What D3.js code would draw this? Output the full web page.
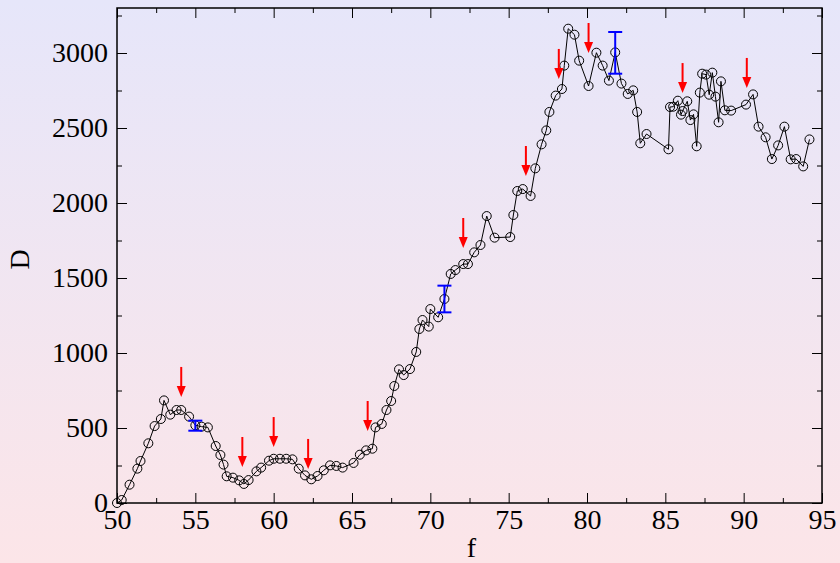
<!DOCTYPE html>
<html>
<head>
<meta charset="utf-8">
<script src="https://cdn.jsdelivr.net/npm/d3@7"></script>
<style>
  body { margin: 0; padding: 0; }
  svg { display: block; }
</style>
</head>
<body>
<div id="my_dataviz"></div>
<script>

// measured points
var fVals = [50.0, 50.3, 50.8, 51.3, 51.5, 52.0, 52.4, 52.8, 53.0, 53.4, 53.8, 54.1, 54.6, 55.0, 55.4, 55.8,
    56.3, 56.6, 56.8, 57.0, 57.4, 57.8, 58.1, 58.4, 58.9, 59.2, 59.7, 60.0, 60.4, 60.8, 61.2, 61.6,
    62.0, 62.4, 62.8, 63.2, 63.6, 64.0, 64.4, 65.1, 65.5, 65.9, 66.3, 66.5, 66.9, 67.2, 67.5, 67.7,
    68.0, 68.3, 68.7, 69.1, 69.3, 69.5, 69.9, 70.0, 70.5, 70.9, 71.3, 71.6, 72.1, 72.4, 72.8, 73.2,
    73.6, 74.1, 75.1, 75.3, 75.55, 75.9, 76.4, 76.7, 77.1, 77.4, 77.6, 78.0, 78.4, 78.55, 78.8, 79.2,
    79.5, 80.1, 80.6, 81.0, 81.4, 81.8, 82.2, 82.6, 82.95, 83.2, 83.4, 83.8, 85.2, 85.3, 85.5, 85.8,
    86.0, 86.1, 86.4, 86.6, 86.8, 87.0, 87.2, 87.35, 87.6, 87.8, 88.0, 88.2, 88.4, 88.55, 88.8, 89.2,
    90.15, 90.6, 90.95, 91.4, 91.8, 92.2, 92.6, 93.0, 93.35, 93.8, 94.2];
var dVals = [0, 20, 122, 229, 280, 398, 513, 560, 684, 589, 620, 620, 576, 518, 509, 504,
    380, 320, 256, 178, 169, 151, 127, 153, 211, 236, 282, 295, 295, 295, 291, 229,
    184, 158, 180, 218, 251, 247, 236, 267, 322, 351, 362, 504, 527, 620, 680, 780,
    891, 853, 893, 1007, 1160, 1220, 1176, 1293, 1238, 1360, 1527, 1553, 1593, 1593, 1671, 1720,
    1913, 1769, 1773, 1920, 2080, 2093, 2047, 2231, 2391, 2484, 2607, 2716, 2760, 2916, 3162, 3122,
    2949, 2780, 3002, 2916, 2816, 3004, 2796, 2727, 2751, 2607, 2398, 2460, 2358, 2640, 2642, 2682,
    2589, 2613, 2678, 2553, 2591, 2378, 2736, 2862, 2856, 2722, 2869, 2709, 2538, 2811, 2618, 2616,
    2656, 2724, 2509, 2438, 2293, 2384, 2509, 2291, 2293, 2244, 2424];

// error bars
var errF = [55.0, 70.9, 81.8];
var errLo = [482, 1271, 2862];
var errHi = [549, 1449, 3140];

// red arrows (tip position)
var arrowF = [54.1, 58.0, 60.0, 62.2, 66.0, 72.1, 76.1, 78.2, 80.1, 86.1, 90.2];
var arrowD = [707, 240, 373, 227, 480, 1700, 2180, 2827, 3000, 2733, 2767];

var xTicks = [50, 55, 60, 65, 70, 75, 80, 85, 90, 95];
var yTicks = [0, 500, 1000, 1500, 2000, 2500, 3000];

var data = fVals.map(function(f, i) { return {x: f, y: dVals[i]}; });

var margin = {top: 8, right: 18, bottom: 60, left: 117},
    W = 840, H = 563,
    width = W - margin.left - margin.right,
    height = H - margin.top - margin.bottom;

var root = d3.select("#my_dataviz")
  .append("svg")
    .attr("width", W)
    .attr("height", H);

// background gradient
var grad = root.append("defs").append("linearGradient")
    .attr("id", "bg")
    .attr("x1", 0).attr("y1", 0).attr("x2", 0).attr("y2", 1);
grad.append("stop").attr("offset", "0%").attr("stop-color", "#e6e6fa");
grad.append("stop").attr("offset", "100%").attr("stop-color", "#fce5e8");
root.append("rect")
    .attr("width", W).attr("height", H)
    .attr("fill", "url(#bg)");

var svg = root.append("g")
    .attr("transform", "translate(" + margin.left + "," + margin.top + ")");

var x = d3.scaleLinear().domain([50, 95]).range([0, width]);
var y = d3.scaleLinear().domain([0, 3300]).range([height, 0]);

var font = "'Liberation Serif', 'Times New Roman', serif";
var xMinor = d3.range(52.5, 95, 5);
var yMinor = d3.range(250, 3300, 500);

function styleAxis(g) {
    g.selectAll(".domain").remove();
    g.selectAll("line").attr("stroke", "#000").attr("stroke-width", 1);
    g.selectAll("text")
        .style("font-family", font)
        .style("font-size", "28px")
        .attr("fill", "#000");
}

// bottom
svg.append("g")
    .attr("transform", "translate(0," + height + ")")
    .call(d3.axisBottom(x).tickValues(xTicks).tickSize(-10).tickPadding(6).tickFormat(d3.format("d")))
    .call(styleAxis);
svg.append("g")
    .attr("transform", "translate(0," + height + ")")
    .call(d3.axisBottom(x).tickValues(xMinor).tickSize(-5).tickFormat(""))
    .call(styleAxis);
// top
svg.append("g")
    .call(d3.axisTop(x).tickValues(xTicks).tickSize(-10).tickFormat(""))
    .call(styleAxis);
svg.append("g")
    .call(d3.axisTop(x).tickValues(xMinor).tickSize(-5).tickFormat(""))
    .call(styleAxis);
// left
svg.append("g")
    .call(d3.axisLeft(y).tickValues(yTicks).tickSize(-10).tickPadding(9).tickFormat(d3.format("d")))
    .call(styleAxis);
svg.append("g")
    .call(d3.axisLeft(y).tickValues(yMinor).tickSize(-5).tickFormat(""))
    .call(styleAxis);
// right
svg.append("g")
    .attr("transform", "translate(" + width + ",0)")
    .call(d3.axisRight(y).tickValues(yTicks).tickSize(-10).tickFormat(""))
    .call(styleAxis);
svg.append("g")
    .attr("transform", "translate(" + width + ",0)")
    .call(d3.axisRight(y).tickValues(yMinor).tickSize(-5).tickFormat(""))
    .call(styleAxis);

// frame
svg.append("rect")
    .attr("width", width).attr("height", height)
    .attr("fill", "none")
    .attr("stroke", "#000")
    .attr("stroke-width", 1.5);

// axis labels
svg.append("text")
    .attr("x", width / 2 + 2)
    .attr("y", height + 54)
    .attr("text-anchor", "middle")
    .style("font-family", font)
    .style("font-size", "28px")
    .text("f");

svg.append("text")
    .attr("transform", "translate(" + (-88) + "," + (height / 2 + 4) + ") rotate(-90)")
    .attr("text-anchor", "middle")
    .style("font-family", font)
    .style("font-size", "28px")
    .text("D");

// line
svg.append("path")
    .datum(data)
    .attr("fill", "none")
    .attr("stroke", "#000")
    .attr("stroke-width", 1)
    .attr("d", d3.line().x(function(d) { return x(d.x); }).y(function(d) { return y(d.y); }));

// circles
svg.selectAll("circle.pt")
    .data(data)
    .enter()
    .append("circle")
    .attr("class", "pt")
    .attr("cx", function(d) { return x(d.x); })
    .attr("cy", function(d) { return y(d.y); })
    .attr("r", 4.5)
    .attr("fill", "none")
    .attr("stroke", "#000")
    .attr("stroke-width", 1);

// error bars
var errs = errF.map(function(f, i) { return {x: f, lo: errLo[i], hi: errHi[i]}; });
var eb = svg.selectAll("g.err").data(errs).enter().append("g")
    .attr("stroke", "#0000ff").attr("stroke-width", 2);
eb.append("line")
    .attr("x1", function(d) { return x(d.x); }).attr("x2", function(d) { return x(d.x); })
    .attr("y1", function(d) { return y(d.lo); }).attr("y2", function(d) { return y(d.hi); });
eb.append("line")
    .attr("x1", function(d) { return x(d.x) - 7; }).attr("x2", function(d) { return x(d.x) + 7; })
    .attr("y1", function(d) { return y(d.lo); }).attr("y2", function(d) { return y(d.lo); });
eb.append("line")
    .attr("x1", function(d) { return x(d.x) - 7; }).attr("x2", function(d) { return x(d.x) + 7; })
    .attr("y1", function(d) { return y(d.hi); }).attr("y2", function(d) { return y(d.hi); });

// arrows
var arrows = arrowF.map(function(f, i) { return {x: f, y: arrowD[i]}; });
var ar = svg.selectAll("g.arrow").data(arrows).enter().append("g");
ar.append("line")
    .attr("x1", function(d) { return x(d.x); }).attr("x2", function(d) { return x(d.x); })
    .attr("y1", function(d) { return y(d.y) - 30; }).attr("y2", function(d) { return y(d.y) - 8; })
    .attr("stroke", "#ff0000").attr("stroke-width", 2);
ar.append("path")
    .attr("d", function(d) {
        var px = x(d.x), py = y(d.y);
        return "M" + (px - 4.5) + "," + (py - 11) + "L" + (px + 4.5) + "," + (py - 11) + "L" + px + "," + py + "Z";
    })
    .attr("fill", "#ff0000");

</script>
</body>
</html>
